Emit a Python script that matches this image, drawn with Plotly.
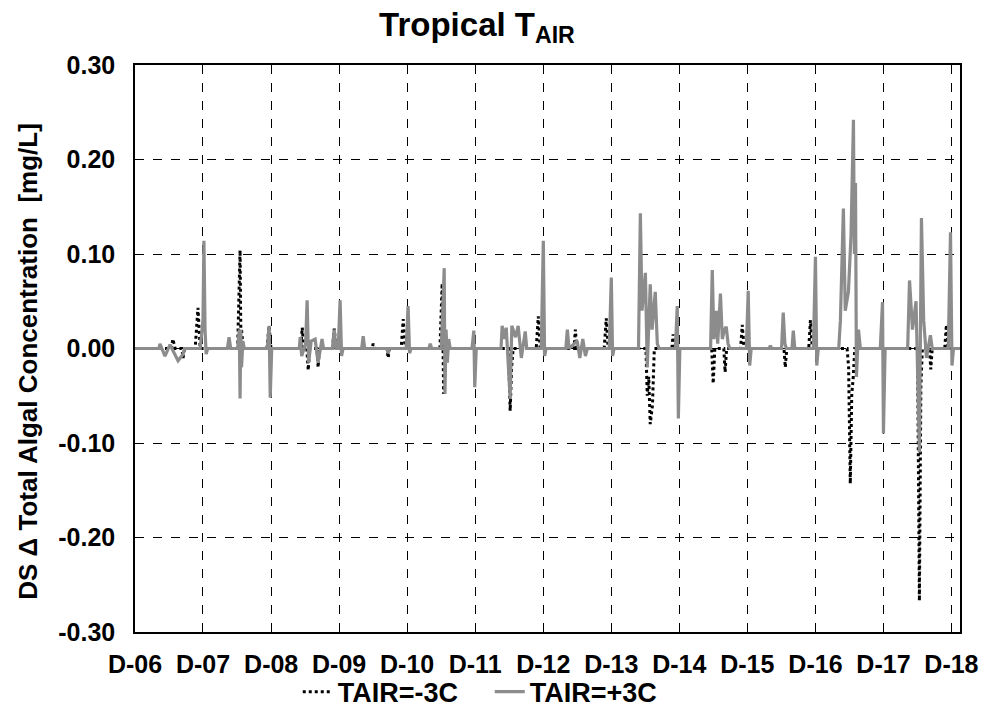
import plotly.graph_objects as go

# ---------------- data ----------------
tick_dates = ["2006-12-01", "2007-12-01", "2008-12-01", "2009-12-01", "2010-12-01",
              "2011-12-01", "2012-12-01", "2013-12-01", "2014-12-01", "2015-12-01",
              "2016-12-01", "2017-12-01", "2018-12-01"]
tick_labels = ["D-06", "D-07", "D-08", "D-09", "D-10", "D-11", "D-12",
               "D-13", "D-14", "D-15", "D-16", "D-17", "D-18"]
y_tick_vals = [0.30, 0.20, 0.10, 0.00, -0.10, -0.20, -0.30]
y_tick_labels = ["0.30", "0.20", "0.10", "0.00", "-0.10", "-0.20", "-0.30"]

# TAIR = -3C (black dotted)
minus_dates = [
    "2006-12-01", "2007-06-15", "2007-06-22", "2007-07-05", "2007-08-10", "2007-08-16", "2007-08-24",
    "2007-10-20", "2007-11-04", "2007-11-16",
    "2008-06-04", "2008-06-17", "2008-06-21", "2008-06-25", "2008-07-04",
    "2008-11-08", "2008-11-20", "2008-11-30",
    "2009-05-08", "2009-05-17", "2009-05-25", "2009-06-10", "2009-06-18", "2009-06-26",
    "2009-08-04", "2009-08-10", "2009-08-17",
    "2009-10-26", "2009-11-05", "2009-11-14",
    "2010-05-26", "2010-06-02", "2010-06-10", "2010-08-14", "2010-08-21", "2010-08-28",
    "2010-10-30", "2010-11-10", "2010-11-20",
    "2011-05-26", "2011-06-07", "2011-06-15", "2011-06-23", "2011-07-03",
    "2012-05-28", "2012-06-06", "2012-06-14", "2012-06-22",
    "2012-10-24", "2012-11-04", "2012-11-14",
    "2013-05-15", "2013-05-22", "2013-05-30",
    "2013-10-24", "2013-11-04", "2013-11-14",
    "2014-06-05", "2014-06-12", "2014-06-20", "2014-06-28", "2014-07-10", "2014-07-20",
    "2014-10-22", "2014-10-29", "2014-11-05",
    "2015-05-24", "2015-06-01", "2015-06-10", "2015-07-28", "2015-08-04", "2015-08-12",
    "2015-10-26", "2015-11-04", "2015-11-14",
    "2016-06-15", "2016-06-22", "2016-06-30",
    "2016-10-26", "2016-11-04", "2016-11-14",
    "2017-05-20", "2017-05-28", "2017-06-06", "2017-06-14", "2017-06-22", "2017-06-30",
    "2018-06-02", "2018-06-12", "2018-06-20", "2018-06-28",
    "2018-08-05", "2018-08-12", "2018-08-20",
    "2018-10-26", "2018-11-04", "2018-11-14",
    "2019-01-16",
]
minus_vals = [
    0.0, 0.0, 0.010, 0.0, 0.0, -0.010, 0.0,
    0.0, 0.043, 0.0,
    0.0, 0.104, 0.020, 0.020, 0.0,
    0.0, 0.024, 0.0,
    0.0, 0.022, 0.0, 0.0, -0.023, 0.0,
    0.0, -0.020, 0.0,
    0.0, 0.021, 0.0,
    0.0, 0.005, 0.0, 0.0, -0.010, 0.0,
    0.0, 0.031, 0.0,
    0.0, 0.069, -0.048, -0.020, 0.0,
    0.0, -0.066, -0.020, 0.0,
    0.0, 0.034, 0.0,
    0.0, 0.020, 0.0,
    0.0, 0.032, 0.0,
    0.0, -0.050, -0.030, -0.080, -0.060, 0.0,
    0.0, 0.015, 0.0,
    0.0, -0.037, 0.0, 0.0, -0.025, 0.0,
    0.0, 0.025, 0.0,
    0.0, -0.020, 0.0,
    0.0, 0.030, 0.0,
    0.0, -0.020, -0.143, -0.048, -0.030, 0.0,
    0.0, -0.267, -0.040, 0.0,
    0.0, -0.022, 0.0,
    0.0, 0.025, 0.0,
    0.0,
]

# TAIR = +3C (grey solid)
plus_dates = [
    "2006-12-01",
    "2007-04-08", "2007-04-14", "2007-05-11", "2007-06-07", "2007-07-20", "2007-08-16", "2007-08-25",
    "2007-11-16", "2007-12-01", "2007-12-06", "2007-12-12", "2007-12-18", "2007-12-26",
    "2008-04-10", "2008-04-19", "2008-04-28",
    "2008-06-04", "2008-06-13", "2008-06-17", "2008-06-21", "2008-06-25", "2008-07-02", "2008-07-10",
    "2008-11-10", "2008-11-20", "2008-11-26", "2008-12-04",
    "2009-05-01", "2009-05-06", "2009-05-14", "2009-06-04", "2009-06-12", "2009-06-20",
    "2009-07-04", "2009-07-25", "2009-08-10", "2009-08-31", "2009-09-08",
    "2009-10-26", "2009-11-04", "2009-11-14", "2009-11-26", "2009-12-06", "2009-12-14", "2009-12-22",
    "2010-04-01", "2010-04-09", "2010-04-17", "2010-08-14", "2010-08-21", "2010-08-28",
    "2010-11-26", "2010-12-06", "2010-12-14", "2010-12-22",
    "2011-03-28", "2011-04-04", "2011-04-12",
    "2011-06-02", "2011-06-10", "2011-06-18", "2011-06-22", "2011-06-28", "2011-07-05", "2011-07-12", "2011-07-20",
    "2011-11-14", "2011-11-24", "2011-11-29", "2011-12-07",
    "2012-04-18", "2012-04-24", "2012-05-05", "2012-05-16", "2012-06-06", "2012-06-15",
    "2012-07-05", "2012-07-19", "2012-08-05", "2012-08-26", "2012-09-03",
    "2012-11-20", "2012-12-01", "2012-12-08", "2012-12-16",
    "2013-04-01", "2013-04-09", "2013-04-18", "2013-06-01", "2013-06-15", "2013-07-01", "2013-07-15", "2013-07-25",
    "2013-11-20", "2013-12-01", "2013-12-08", "2013-12-16",
    "2014-04-26", "2014-05-06", "2014-05-15", "2014-06-02", "2014-06-12", "2014-06-28",
    "2014-07-08", "2014-07-25", "2014-08-05", "2014-08-15",
    "2014-11-10", "2014-11-20", "2014-11-26", "2014-12-04",
    "2015-05-18", "2015-05-27", "2015-06-05", "2015-06-18", "2015-06-25", "2015-07-10",
    "2015-07-20", "2015-07-31", "2015-08-10", "2015-08-20", "2015-08-30",
    "2015-11-26", "2015-12-06", "2015-12-14", "2015-12-22",
    "2016-03-27", "2016-04-03", "2016-04-10", "2016-06-02", "2016-06-11", "2016-06-20", "2016-06-28",
    "2016-07-28", "2016-08-04", "2016-08-12",
    "2016-11-20", "2016-12-01", "2016-12-08", "2016-12-16",
    "2017-04-05", "2017-04-14", "2017-04-30", "2017-05-10", "2017-05-27", "2017-06-10",
    "2017-06-23", "2017-06-28", "2017-07-04", "2017-07-09", "2017-07-20", "2017-07-30",
    "2017-11-14", "2017-11-26", "2017-12-01", "2017-12-10",
    "2018-04-10", "2018-04-20", "2018-05-06", "2018-05-25", "2018-06-12", "2018-06-23",
    "2018-07-05", "2018-07-20", "2018-08-10", "2018-08-20",
    "2018-11-14", "2018-11-26", "2018-12-04", "2018-12-12",
    "2019-01-16",
]
plus_vals = [
    0.0,
    0.0, 0.005, -0.008, 0.004, -0.013, -0.006, 0.0,
    0.0, 0.030, 0.114, 0.020, -0.006, 0.0,
    0.0, 0.012, 0.0,
    0.0, 0.020, -0.053, 0.020, -0.020, 0.008, 0.0,
    0.0, 0.024, -0.052, 0.0,
    0.0, 0.012, -0.008, 0.005, 0.051, -0.015,
    0.008, 0.010, -0.015, 0.010, 0.0,
    0.0, 0.020, 0.0, 0.0, 0.051, -0.008, 0.0,
    0.0, 0.013, 0.0, 0.0, -0.005, 0.0,
    0.0, 0.045, -0.005, 0.0,
    0.0, 0.005, 0.0,
    0.0, 0.040, 0.085, -0.048, 0.020, -0.015, 0.010, 0.0,
    0.0, 0.019, -0.041, 0.0,
    0.0, 0.024, 0.010, 0.022, -0.053, 0.024,
    0.012, 0.024, -0.010, 0.018, 0.0,
    0.0, 0.114, -0.008, 0.0,
    0.0, 0.020, 0.0, 0.008, -0.010, 0.010, -0.008, 0.0,
    0.0, 0.075, -0.008, 0.0,
    0.0, 0.143, 0.040, 0.080, -0.020, 0.068,
    0.020, 0.060, 0.005, 0.0,
    0.0, 0.045, -0.074, 0.0,
    0.0, 0.083, 0.010, 0.040, 0.005, 0.058,
    0.010, 0.020, 0.023, 0.005, 0.0,
    0.0, 0.061, -0.018, 0.0,
    0.0, 0.003, 0.0, 0.0, 0.038, 0.005, 0.0,
    0.0, 0.019, 0.0,
    0.0, 0.097, -0.018, 0.0,
    0.0, 0.030, 0.148, 0.040, 0.060, 0.120,
    0.242, 0.100, 0.175, -0.030, 0.020, 0.0,
    0.0, 0.049, -0.090, 0.0,
    0.0, 0.072, 0.020, 0.050, -0.110, 0.138,
    0.030, -0.010, 0.014, 0.0,
    0.0, 0.123, -0.018, 0.0,
    0.0,
]

x_range = ["2006-12-01", "2019-01-16"]

# ---------------- figure ----------------
# the page body has an 8px default margin, so the figure is sized/offset for it
FONT = "Liberation Sans, Arial, sans-serif"

fig = go.Figure()
fig.add_trace(go.Scatter(
    x=minus_dates, y=minus_vals, mode="lines", name="TAIR=-3C",
    line=dict(color="black", width=3, dash="dot"),
))
fig.add_trace(go.Scatter(
    x=plus_dates, y=plus_vals, mode="lines", name="TAIR=+3C",
    line=dict(color="#8c8c8c", width=3.2),
))

fig.update_layout(
    width=979, height=705,
    margin=dict(l=127, r=27, t=57, b=81, autoexpand=False),
    paper_bgcolor="white", plot_bgcolor="white",
    font=dict(family=FONT, color="black", size=26, weight="bold"),
    title=dict(text="Tropical T<sub>AIR</sub>", x=0.479, xref="container", xanchor="center",
               y=0.977, yref="container", yanchor="middle",
               font=dict(family=FONT, size=33, weight="bold", color="black")),
    showlegend=True,
    legend=dict(orientation="h", x=0.43, xanchor="center", y=-0.106, yanchor="middle",
                font=dict(family=FONT, size=27, weight="bold"), bgcolor="rgba(0,0,0,0)",
                entrywidth=147, traceorder="normal"),
)
fig.update_xaxes(
    type="date", range=x_range,
    tickvals=tick_dates, ticktext=tick_labels,
    tickfont=dict(family=FONT, size=25, weight="bold"),
    showgrid=True, gridcolor="black", gridwidth=1.2, griddash="dash",
    showline=True, mirror=True, linecolor="black", linewidth=1.5,
    ticks="inside", ticklen=6, tickcolor="black", zeroline=False,
    ticklabelstandoff=9,
)
fig.update_yaxes(
    range=[-0.30, 0.30],
    tickvals=y_tick_vals, ticktext=y_tick_labels,
    tickfont=dict(family=FONT, size=25, weight="bold"),
    showgrid=True, gridcolor="black", gridwidth=1.2, griddash="dash",
    showline=True, mirror=True, linecolor="black", linewidth=1.5,
    ticks="", zeroline=False, ticklabelstandoff=13,
)
fig.add_annotation(
    text="DS \u0394 Total Algal Concentration  [mg/L]",
    xref="paper", yref="paper", x=-0.13, y=0.478,
    xanchor="center", yanchor="middle", textangle=-90, showarrow=False,
    font=dict(family=FONT, size=26, weight="bold", color="black"),
)

fig.write_html("out.html")
